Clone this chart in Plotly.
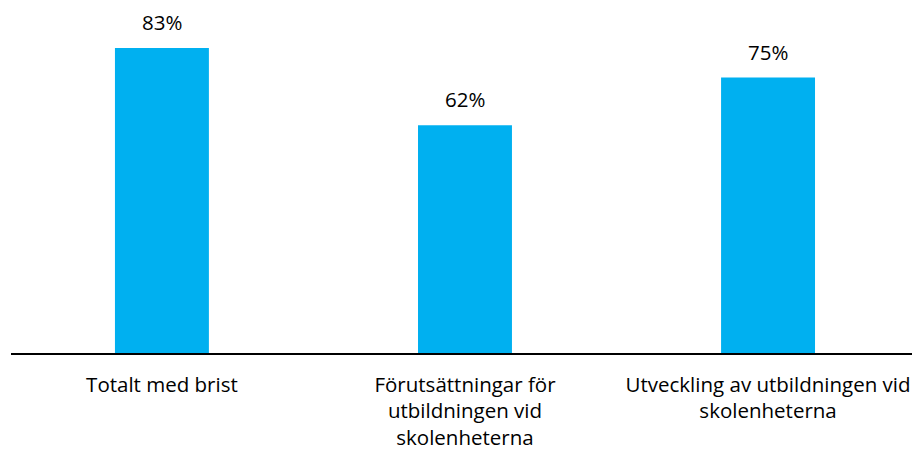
import plotly.graph_objects as go

categories = ["Totalt med brist",
              "Förutsättningar för<br>utbildningen vid<br>skolenheterna",
              "Utveckling av utbildningen vid<br>skolenheterna"]
values = [83, 62, 75]
labels = ["83%", "62%", "75%"]

FONT = "Open Sans"

fig = go.Figure(go.Bar(
    x=categories, y=values,
    marker=dict(color="#00B0F0", line=dict(width=0)),
    hoverinfo="skip",
))
for c, v, t in zip(categories, values, labels):
    fig.add_annotation(x=c, y=v, text=t, showarrow=False, yanchor="bottom",
                       yshift=10, font=dict(size=20.5, family=FONT, color="#000000"))
fig.update_layout(
    width=912, height=452,
    margin=dict(l=11, r=0, t=0, b=99, autoexpand=False),
    paper_bgcolor="white", plot_bgcolor="white",
    bargap=0.69,
    showlegend=False,
    font=dict(family=FONT, size=20.5, color="#000000"),
    xaxis=dict(showline=True, linecolor="#000000", linewidth=2, ticks="",
               automargin=False, ticklabelstandoff=12, range=[-0.498, 2.475],
               tickfont=dict(size=20.5, family=FONT, color="#000000")),
    yaxis=dict(range=[0, 96.1], visible=False, showgrid=False, zeroline=False,
               automargin=False),
)
fig.write_html("out.html",
               config={"displayModeBar": False},
               post_script="document.body.style.margin='0';document.body.style.overflow='hidden';")
